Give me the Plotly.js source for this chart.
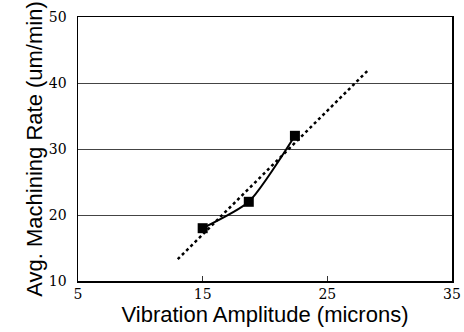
<!DOCTYPE html>
<html><head><meta charset="utf-8">
<script src="https://cdn.plot.ly/plotly-3.0.1.min.js"></script>
<style>html,body{margin:0;padding:0;background:#fff}#c{width:464px;height:332px}</style>
</head><body><div id="c"></div>
<script>
var amplitude = [15, 18.7, 22.4];
var rate = [18, 22, 32];
var trendX = [13, 28.2];
var trendY = [13.3, 41.8];
var xTicks = [5, 15, 25, 35];
var yTicks = [10, 20, 30, 40, 50];

var traces = [
  {x: trendX, y: trendY, mode: 'lines', type: 'scatter',
   line: {color: '#000', width: 2.5, dash: 'dot'}, hoverinfo: 'skip'},
  {x: amplitude, y: rate, mode: 'lines+markers', type: 'scatter',
   line: {color: '#000', width: 2, shape: 'spline', smoothing: 0.6},
   marker: {symbol: 'square', size: 10, color: '#000'}}
];
var layout = {
  width: 464, height: 332, showlegend: false,
  paper_bgcolor: '#fff', plot_bgcolor: '#fff',
  margin: {l: 78, r: 12, t: 17, b: 51},
  xaxis: {range: [5, 35], tickvals: xTicks, ticks: 'inside', ticklen: 5, tickcolor: '#333',
    showgrid: false, zeroline: false, showline: true, linecolor: '#000', linewidth: 1.5, mirror: true,
    tickfont: {family: 'DejaVu Serif', size: 14, color: '#000'},
    title: {text: 'Vibration Amplitude (microns)', font: {family: 'Liberation Sans', size: 22, color: '#000'}, standoff: 0}},
  yaxis: {range: [10, 50], tickvals: yTicks, ticks: '', showgrid: true, gridcolor: '#444', gridwidth: 1,
    zeroline: false, showline: true, linecolor: '#000', linewidth: 1.5, mirror: true,
    ticklabelstandoff: 7,
    tickfont: {family: 'DejaVu Serif', size: 14, color: '#000'},
    title: {text: 'Avg. Machining Rate (um/min)', font: {family: 'Liberation Sans', size: 22, color: '#000'}, standoff: 0}}
};
Plotly.newPlot('c', traces, layout, {staticPlot: true});
</script></body></html>
